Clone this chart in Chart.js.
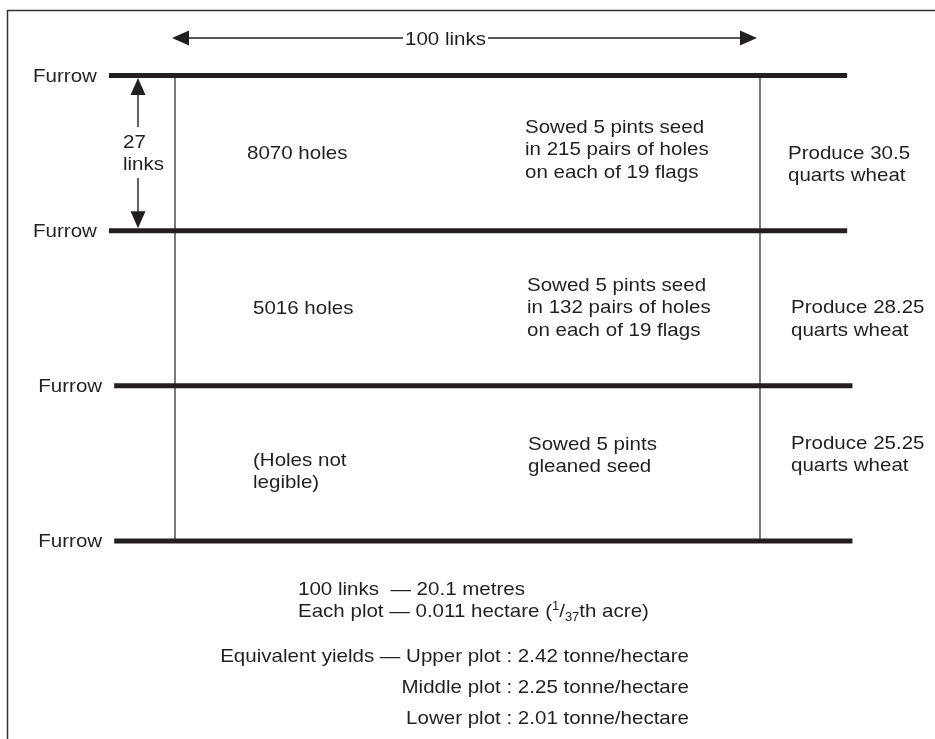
<!DOCTYPE html>
<html>
<head>
<meta charset="utf-8">
<title>Wheat plots between furrows</title>
<script src="https://cdn.jsdelivr.net/npm/chart.js@4.4.1/dist/chart.umd.min.js"></script>
<style>
  html, body { margin: 0; padding: 0; background: #fff; }
  #wrap { position: relative; width: 935px; height: 739px; }
</style>
</head>
<body>
<div id="wrap"><canvas id="plotChart"></canvas></div>
<script>
// Field layout - three plots sown between four furrows

// Data
const furrowLinks = [0, 27, 54, 81];     // furrow positions down the field (links)
const plotLengthLinks = 100;             // plot length (links)
const plotWidthLinks = 27;               // plot width (links)
const plotNames = ['Upper plot', 'Middle plot', 'Lower plot'];
const holeCounts = [8070, 5016, null];   // null = not legible
const holePairs = [215, 132, null];
const flagsPerPlot = [19, 19, null];
const seedPints = [5, 5, 5];
const produceQuarts = ['30.5', '28.25', '25.25'];
const yieldTonnes = ['2.42', '2.25', '2.01'];
const linkMetres = '20.1';               // 100 links in metres
const plotHectare = '0.011';
const plotAcreFraction = 37;

// Styling / layout
const FONT = '"Liberation Sans", Arial, Helvetica, sans-serif';
const FS = 19, SX = 1.08, LH = 22.5;
const INK = '#231f20';
const FURROW_FROM = -11.3, FURROW_TO = 114.9;
const furrowNudge = [0, 0, 0.9, 0.9];
// [left px, first baseline below the furrow above px]
const holeSpot = [[247, 83], [253, 83.3], [253, 80.2]];
const sowSpot = [[525, 57.4], [527, 60.3], [528, 64.2]];
const prodSpot = [[788, 83.4], [791, 82.8], [791, 63.2]];

function say(ctx, str, px, py, align, size) {
  ctx.save();
  ctx.font = (size || FS) + 'px ' + FONT;
  ctx.fillStyle = INK;
  ctx.textAlign = align || 'left';
  ctx.textBaseline = 'alphabetic';
  ctx.translate(px, py);
  ctx.scale(SX, 1);
  ctx.fillText(str, 0, 0);
  ctx.restore();
}

function wide(ctx, str, size) {
  ctx.save();
  ctx.font = (size || FS) + 'px ' + FONT;
  const w = ctx.measureText(str).width * SX;
  ctx.restore();
  return w;
}

function sayLines(ctx, str, px, py) {
  str.split('\n').forEach((s, i) => say(ctx, s, px, py + i * LH));
}

function head(ctx, tx, ty, dx, dy) {
  const L = 17, W = 7.5;
  const bx = tx - dx * L, by = ty - dy * L;
  ctx.beginPath();
  ctx.moveTo(tx, ty);
  ctx.lineTo(bx - dy * W, by + dx * W);
  ctx.lineTo(bx + dy * W, by - dx * W);
  ctx.closePath();
  ctx.fill();
}

function seg(ctx, x1, y1, x2, y2) {
  ctx.beginPath();
  ctx.moveTo(x1, y1);
  ctx.lineTo(x2, y2);
  ctx.stroke();
}

const fieldNotes = {
  id: 'fieldNotes',
  afterDatasetsDraw(chart) {
    const { ctx } = chart;
    const xs = chart.scales.x, ys = chart.scales.y;
    ctx.save();
    ctx.strokeStyle = '#333';
    ctx.fillStyle = INK;

    // frame (open to the right and bottom)
    ctx.lineWidth = 1.5;
    ctx.strokeRect(7.5, 10.5, 2000, 2000);

    // 100 links arrow
    ctx.strokeStyle = INK;
    ctx.lineWidth = 1.4;
    const ax0 = xs.getPixelForValue(0) - 3, ax1 = xs.getPixelForValue(plotLengthLinks) - 3, ay = 38;
    const topLbl = plotLengthLinks + ' links';
    const lblX = 405, lblW = wide(ctx, topLbl);
    seg(ctx, ax0 + 10, ay, lblX - 2, ay);
    seg(ctx, lblX + lblW + 2, ay, ax1 - 10, ay);
    head(ctx, ax0, ay, -1, 0);
    head(ctx, ax1, ay, 1, 0);
    say(ctx, topLbl, lblX, ay + 6.5);

    // 27 links arrow
    const vx = 138;
    const vy0 = ys.getPixelForValue(furrowLinks[0]) + 2.5;
    const vy1 = ys.getPixelForValue(furrowLinks[1]) - 2.5;
    seg(ctx, vx, vy0 + 10, vx, 127);
    seg(ctx, vx, 178, vx, vy1 - 10);
    head(ctx, vx, vy0, 0, -1);
    head(ctx, vx, vy1, 0, 1);
    say(ctx, String(plotWidthLinks), 123, 148);
    say(ctx, 'links', 123, 170);

    // furrow labels
    furrowLinks.forEach((f, i) => {
      const lx = xs.getPixelForValue(FURROW_FROM + furrowNudge[i]) - 12;
      say(ctx, 'Furrow', lx, ys.getPixelForValue(f) + 6.5, 'right');
    });

    // plot notes
    plotNames.forEach((name, i) => {
      const top = ys.getPixelForValue(furrowLinks[i]);
      const holes = holeCounts[i] != null ? holeCounts[i] + ' holes' : '(Holes not\nlegible)';
      const sown = holePairs[i] != null
        ? 'Sowed ' + seedPints[i] + ' pints seed\nin ' + holePairs[i] + ' pairs of holes\non each of ' + flagsPerPlot[i] + ' flags'
        : 'Sowed ' + seedPints[i] + ' pints\ngleaned seed';
      sayLines(ctx, holes, holeSpot[i][0], top + holeSpot[i][1]);
      sayLines(ctx, sown, sowSpot[i][0], top + sowSpot[i][1]);
      sayLines(ctx, 'Produce ' + produceQuarts[i] + '\nquarts wheat', prodSpot[i][0], top + prodSpot[i][1]);
    });

    // notes below
    say(ctx, plotLengthLinks + ' links  \u2014 ' + linkMetres + ' metres', 298, 595);
    let cx = 298;
    const parts = [
      ['Each plot \u2014 ' + plotHectare + ' hectare (', FS, 0],
      ['1', 12, -7],
      ['/', FS, 0],
      [String(plotAcreFraction), 12, 4],
      ['th acre)', FS, 0]
    ];
    parts.forEach(p => {
      say(ctx, p[0], cx, 617 + p[2], 'left', p[1]);
      cx += wide(ctx, p[0], p[1]);
    });
    const yBase = [662, 693, 724];
    plotNames.forEach((name, i) => {
      const pre = i === 0 ? 'Equivalent yields \u2014 ' : '';
      say(ctx, pre + name + ' : ' + yieldTonnes[i] + ' tonne/hectare', 689, yBase[i], 'right');
    });
    ctx.restore();
  }
};

// furrows and plot ends as line datasets
const datasets = [];
furrowLinks.forEach((f, i) => {
  datasets.push({
    label: 'Furrow ' + (i + 1),
    data: [{ x: FURROW_FROM + furrowNudge[i], y: f }, { x: FURROW_TO + furrowNudge[i], y: f }],
    showLine: true,
    borderColor: INK,
    borderWidth: 5,
    borderCapStyle: 'butt',
    pointRadius: 0,
    order: 1
  });
});
[0, plotLengthLinks].forEach(px => {
  datasets.push({
    label: 'Plot end',
    data: [{ x: px, y: furrowLinks[0] }, { x: px, y: furrowLinks[furrowLinks.length - 1] }],
    showLine: true,
    borderColor: '#333',
    borderWidth: 1.3,
    pointRadius: 0,
    order: 2
  });
});

const ctxPlot = document.getElementById('plotChart').getContext('2d');
new Chart(ctxPlot, {
  type: 'scatter',
  data: { datasets },
  options: {
    responsive: true,
    maintainAspectRatio: false,
    animation: false,
    events: [],
    layout: { padding: 0 },
    plugins: {
      legend: { display: false },
      tooltip: { enabled: false }
    },
    scales: {
      x: { type: 'linear', min: -29.915, max: 129.915, display: false },
      y: { type: 'linear', min: -13.16, max: 115.49, reverse: true, display: false }
    }
  },
  plugins: [fieldNotes]
});
</script>
</body>
</html>
